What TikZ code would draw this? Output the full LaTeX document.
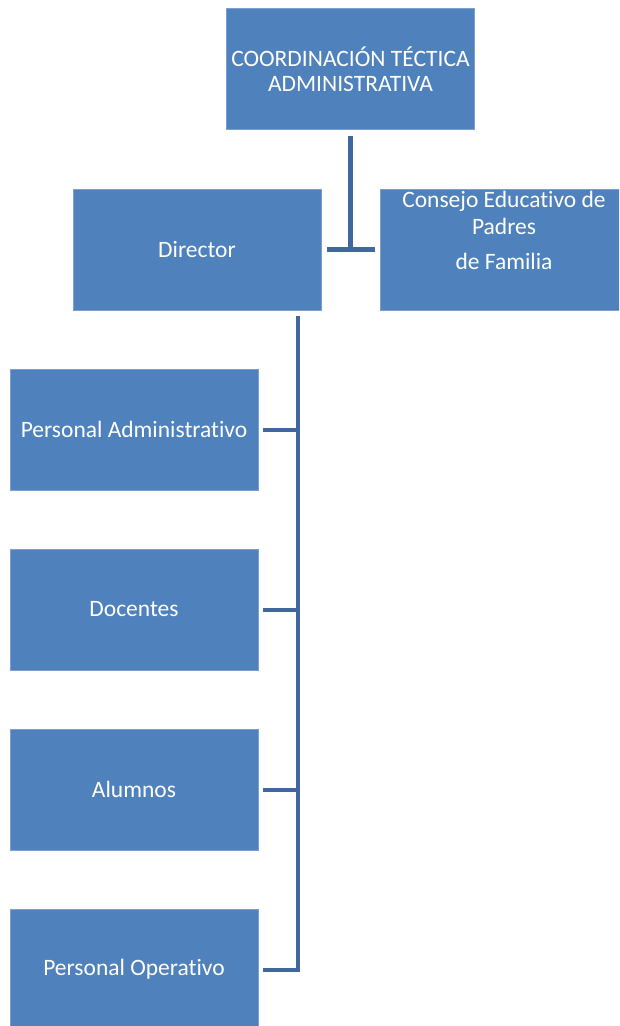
\documentclass[tikz,border=0pt]{standalone}
\usepackage{fontspec}
\setmainfont[Ligatures=NoCommon]{Carlito}
\definecolor{cajaazul}{RGB}{79,129,189}
\definecolor{lineaazul}{RGB}{64,104,158}

\begin{document}
\begin{tikzpicture}[x=1pt,y=-1pt]
        \tikzstyle{every node}=[font=\fontsize{23.5}{25}\selectfont, text=white, align=center]
        \tikzstyle{caja}=[fill=cajaazul, draw=cajaazul!75!white, line width=0.6pt, minimum width=248pt, minimum height=121pt, inner sep=0pt]
        \tikzstyle{lineagruesa}=[draw=lineaazul, line width=5.5pt]
        \tikzstyle{linea}=[draw=lineaazul, line width=4pt]
        \clip (0,0) rectangle (619,1026);
        % cajas
        \node[caja] (coord) at (350.5,69) {COORDINACIÓN TÉCTICA\\ADMINISTRATIVA};
        \node[caja] (dir) at (197,249.5) {Director};
        \node[caja] (consejo) at (504,249.5) {};
        \node[font=\fontsize{23.5}{27}\selectfont] (consejotxt) at (504,230.5) {Consejo Educativo de\\Padres\\[8pt]de Familia};
        \node[caja] (pa) at (134,429.5) {Personal Administrativo};
        \node[caja] (doc) at (134,609.5) {Docentes};
        \node[caja] (alu) at (134,789.5) {Alumnos};
        \node[caja] (po) at (134,969.5) {Personal Operativo};
        % conectores
        \coordinate (t1) at (350.5,136);
        \coordinate (t2) at (350.5,249.5);
        \draw[lineagruesa] (t1) -- (t2);
        \draw[lineagruesa] ([xshift=6pt]dir.east |- t2) -- ([xshift=-5pt]consejo.west |- t2);
        \coordinate (b0) at (298,316);
        \draw[linea] (b0) |- ([xshift=5pt]po.east);
        \draw[linea] ([xshift=5pt]pa.east) -- (pa.east -| b0);
        \draw[linea] ([xshift=5pt]doc.east) -- (doc.east -| b0);
        \draw[linea] ([xshift=5pt]alu.east) -- (alu.east -| b0);
\end{tikzpicture}
\end{document}
